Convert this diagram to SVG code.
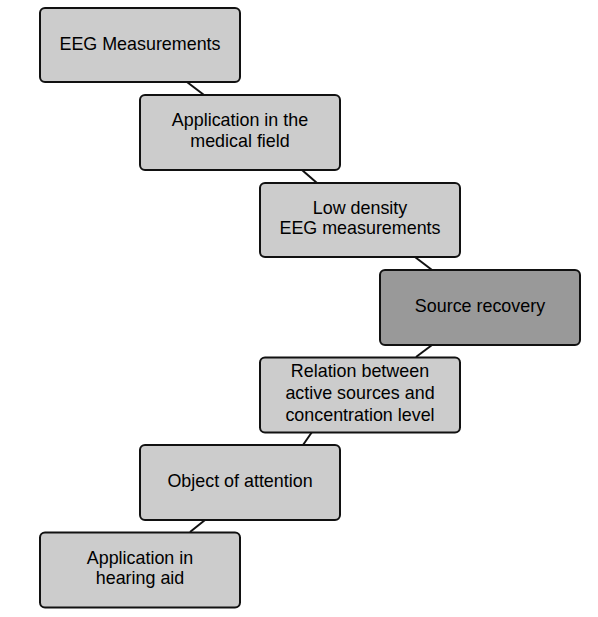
<svg xmlns="http://www.w3.org/2000/svg" width="598" height="617" viewBox="0 0 598 617">
<style>
.box{fill:#cccccc;stroke:#111;stroke-width:2}
.dark{fill:#999999}
.lbl{font-family:"Liberation Sans",Arial,sans-serif;font-size:17.9px;fill:#000;text-anchor:middle}
.conn line{stroke:#111;stroke-width:2}
</style>
<rect width="598" height="617" fill="#fff"/>
<g id="connectors" class="conn">
<line x1="187" y1="82" x2="204" y2="95"/>
<line x1="302" y1="170" x2="317" y2="183"/>
<line x1="415" y1="257" x2="432" y2="270"/>
<line x1="432" y1="345" x2="416" y2="357"/>
<line x1="312" y1="432" x2="303" y2="445"/>
<line x1="205" y1="520" x2="190" y2="532"/>
</g>
<g id="n1"><rect class="box" x="40" y="8" width="200" height="74" rx="5"/><text class="lbl" x="140" y="49.5">EEG Measurements</text></g>
<g id="n2"><rect class="box" x="140" y="95" width="200" height="75" rx="5"/><text class="lbl" x="240" y="126">Application in the</text><text class="lbl" x="240" y="147">medical field</text></g>
<g id="n3"><rect class="box" x="260" y="183" width="200" height="74" rx="5"/><text class="lbl" x="360" y="213.5">Low density</text><text class="lbl" x="360" y="234.3">EEG measurements</text></g>
<g id="n4"><rect class="box dark" x="380" y="270" width="200" height="75" rx="5"/><text class="lbl" x="480" y="311.8">Source recovery</text></g>
<g id="n5"><rect class="box" x="260" y="357.5" width="200" height="75" rx="5"/><text class="lbl" x="360" y="377.3">Relation between</text><text class="lbl" x="360" y="399.2">active sources and</text><text class="lbl" x="360" y="420.8">concentration level</text></g>
<g id="n6"><rect class="box" x="140" y="445" width="200" height="75" rx="5"/><text class="lbl" x="240" y="487.3">Object of attention</text></g>
<g id="n7"><rect class="box" x="40" y="532.5" width="200" height="75" rx="5"/><text class="lbl" x="140" y="563.5">Application in</text><text class="lbl" x="140" y="584.3">hearing aid</text></g>
</svg>
